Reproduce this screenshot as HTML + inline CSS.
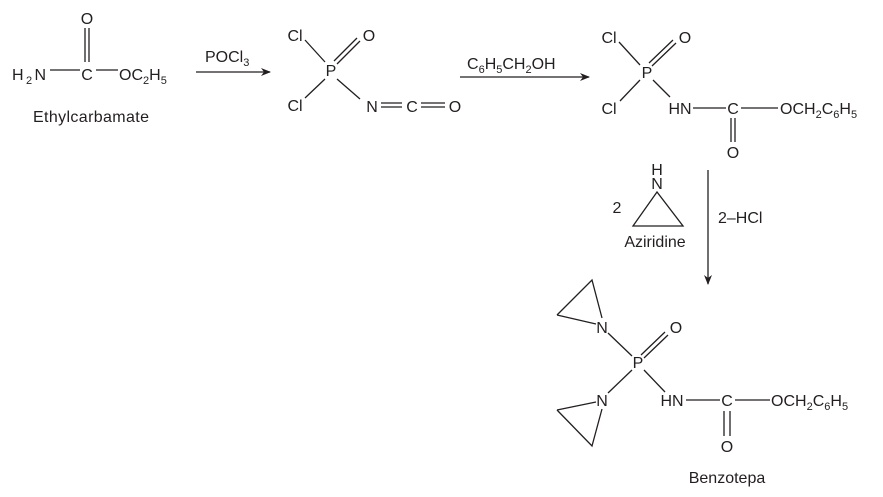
<!DOCTYPE html>
<html><head><style>body{margin:0;background:#fff}svg{display:block}text{font-family:"Liberation Sans",sans-serif;font-size:16px;fill:#231f20}.m{text-anchor:middle}tspan.s{font-size:11px}</style></head><body>
<svg width="883" height="497" viewBox="0 0 883 497" xmlns="http://www.w3.org/2000/svg" stroke="#231f20" stroke-width="1.3" fill="none">
<defs><marker id="a" markerWidth="10" markerHeight="8" refX="9" refY="4" orient="auto" markerUnits="userSpaceOnUse"><path d="M0,0 L10,4 L0,8 L3,4Z" fill="#231f20" stroke="none"/></marker></defs>
<g stroke="none">
<text class="m" x="87" y="24">O</text>
<text x="12" y="80" textLength="34">H<tspan class="s" dy="4">2</tspan><tspan dy="-4">N</tspan></text>
<text class="m" x="87" y="80">C</text>
<text x="119" y="80">OC<tspan class="s" dy="4">2</tspan><tspan dy="-4">H</tspan><tspan class="s" dy="4">5</tspan></text>
<text x="33" y="122" textLength="116">Ethylcarbamate</text>
<text x="205" y="62">POCl<tspan class="s" dy="4">3</tspan></text>
<text class="m" x="295" y="41">Cl</text><text class="m" x="369" y="41">O</text>
<text class="m" x="331" y="76">P</text>
<text class="m" x="295" y="111">Cl</text>
<text class="m" x="372" y="112">N</text><text class="m" x="412" y="112">C</text><text class="m" x="455" y="112">O</text>
<text x="467" y="69">C<tspan class="s" dy="4">6</tspan><tspan dy="-4">H</tspan><tspan class="s" dy="4">5</tspan><tspan dy="-4">CH</tspan><tspan class="s" dy="4">2</tspan><tspan dy="-4">OH</tspan></text>
<text class="m" x="609" y="43">Cl</text><text class="m" x="685" y="43">O</text>
<text class="m" x="647" y="78">P</text>
<text class="m" x="609" y="114">Cl</text>
<text class="m" x="680" y="114">HN</text><text class="m" x="733" y="114">C</text>
<text x="780" y="114">OCH<tspan class="s" dy="4">2</tspan><tspan dy="-4">C</tspan><tspan class="s" dy="4">6</tspan><tspan dy="-4">H</tspan><tspan class="s" dy="4">5</tspan></text>
<text class="m" x="733" y="158">O</text>
<text class="m" x="657" y="175">H</text><text class="m" x="657" y="189">N</text>
<text class="m" x="617" y="213">2</text>
<text class="m" x="655" y="247">Aziridine</text>
<text x="718" y="223">2–HCl</text>
<text class="m" x="602" y="333">N</text><text class="m" x="676" y="333">O</text>
<text class="m" x="638" y="368">P</text>
<text class="m" x="602" y="406">N</text>
<text class="m" x="672" y="406">HN</text><text class="m" x="727" y="406">C</text>
<text x="771" y="406">OCH<tspan class="s" dy="4">2</tspan><tspan dy="-4">C</tspan><tspan class="s" dy="4">6</tspan><tspan dy="-4">H</tspan><tspan class="s" dy="4">5</tspan></text>
<text class="m" x="727" y="452">O</text>
<text class="m" x="727" y="483">Benzotepa</text>
</g>
<path d="M85,28V62M89,28V62M50,70H80M96,70H118"/>
<path d="M196,72H270" marker-end="url(#a)"/>
<path d="M305,40L325,62M337,64L360,41M334,61L357,38M325,79L305,98M337,79L360,99"/>
<path d="M381,103H402M381,107H402M421,103H445M421,107H445"/>
<path d="M460,77H589" marker-end="url(#a)"/>
<path d="M619,42L640,65M652,66L676,43M649,63L673,40M640,80L620,101M653,80L670,97"/>
<path d="M693,108H726M741,108H778M731,118V142M735,118V142"/>
<path d="M657,192L633,226H683Z"/>
<path d="M708,170V284" marker-end="url(#a)"/>
<path d="M557,315L592,280L602,318M557,315L596,324M557,410L596,402M557,410L592,446L602,409"/>
<path d="M608,333L632,356M608,393L632,370M644,358L668,335M641,355L665,332M644,370L665,392"/>
<path d="M686,400H720M735,400H770M724,411V436M730,411V436"/>
</svg>
</body></html>
